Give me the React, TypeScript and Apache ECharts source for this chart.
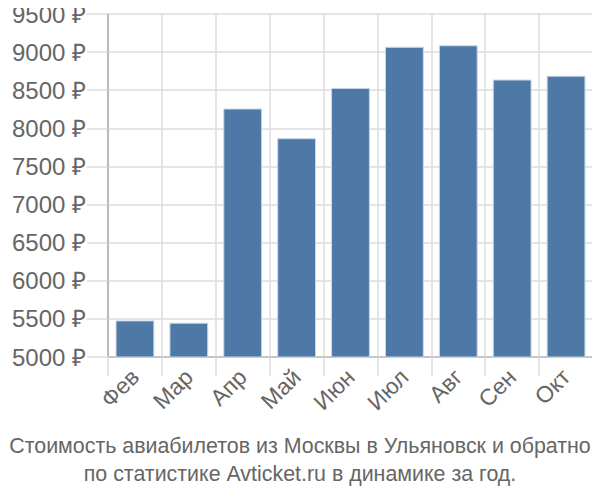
import React, { useEffect, useRef } from "react";
import * as echarts from "echarts";

const categories = ["Фев", "Мар", "Апр", "Май", "Июн", "Июл", "Авг", "Сен", "Окт"];
const prices = [5480, 5450, 8260, 7870, 8530, 9070, 9090, 8640, 8690];
const titleLines = [
  "Стоимость авиабилетов из Москвы в Ульяновск и обратно",
  "по статистике Avticket.ru в динамике за год.",
];

const FONT = "'Liberation Sans', Arial, sans-serif";

export default function App() {
  const ref = useRef<HTMLDivElement>(null);
  useEffect(() => {
    if (!ref.current) return;
    const chart = echarts.init(ref.current, undefined, { renderer: "svg" });
    chart.setOption({
      animation: false,
      backgroundColor: "#ffffff",
      textStyle: { fontFamily: FONT },
      title: {
        text: titleLines.join("\n"),
        left: "center",
        top: 432,
        padding: 0,
        textStyle: {
          fontFamily: FONT,
          fontSize: 21.4,
          fontWeight: "normal",
          color: "#666666",
          lineHeight: 28,
        },
      },
      grid: { left: 108, right: 7, top: 14, bottom: 143, containLabel: false },
      xAxis: {
        type: "category",
        data: categories,
        axisLine: { show: true, lineStyle: { color: "#bbbbbb", width: 1.5 } },
        axisTick: {
          show: true,
          alignWithLabel: false,
          length: 19,
          lineStyle: { color: "#dddddd", width: 1.5 },
        },
        splitLine: { show: true, lineStyle: { color: "#dddddd", width: 1.5 } },
        axisLabel: {
          rotate: 45,
          margin: 16,
          fontSize: 23,
          color: "#666666",
          fontFamily: FONT,
        },
      },
      yAxis: {
        type: "value",
        min: 5000,
        max: 9500,
        interval: 500,
        axisLine: { show: true, lineStyle: { color: "#aaaaaa", width: 1.5 } },
        axisTick: { show: true, length: 21, lineStyle: { color: "#dddddd", width: 1.5 } },
        splitLine: { show: true, lineStyle: { color: "#dddddd", width: 1.5 } },
        axisLabel: {
          margin: 22,
          fontSize: 24,
          color: "#666666",
          fontFamily: FONT,
          formatter: (v: number) => `${v} ₽`,
        },
      },
      series: [
        {
          type: "bar",
          data: prices,
          barCategoryGap: "28%",
          itemStyle: {
            color: "#4e78a6",
            borderColor: "#c8d6e6",
            borderWidth: 1,
          },
        },
      ],
    });
    return () => chart.dispose();
  }, []);
  return <div ref={ref} style={{ width: 600, height: 500, margin: -8 }} />;
}
